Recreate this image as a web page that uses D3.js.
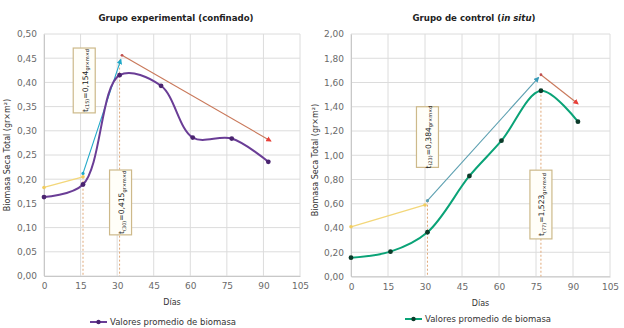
<!DOCTYPE html>
<html>
<head>
<meta charset="utf-8" />
<title>biomasa</title>
<script src="https://cdn.jsdelivr.net/npm/d3@7/dist/d3.min.js"></script>
<style>
  body { margin: 0; background: #fff; }
  text { font-family: "DejaVu Sans", Verdana, sans-serif; }
</style>
</head>
<body>
<svg width="624" height="328"></svg>
<script>
// dias de muestreo
var days = [0, 16, 31, 48, 61, 77, 92];
// grupo experimental (confinado)
var expValues = [0.163, 0.189, 0.415, 0.393, 0.286, 0.284, 0.236];
// grupo de control (in situ)
var ctrlValues = [0.155, 0.205, 0.365, 0.829, 1.12, 1.532, 1.277];

var xTicks = [0, 15, 30, 45, 60, 75, 90, 105];
var expYTicks = [0, 0.05, 0.10, 0.15, 0.20, 0.25, 0.30, 0.35, 0.40, 0.45, 0.50];
var ctrlYTicks = [0, 0.20, 0.40, 0.60, 0.80, 1.00, 1.20, 1.40, 1.60, 1.80, 2.00];

// lineas de tendencia [dia, valor]
var expYellow = [[0, 0.183], [16, 0.205]];
var expTeal = [[16, 0.212], [31.5, 0.447]];
var expRed = [[32, 0.456], [93, 0.279]];
var ctrlYellow = [[0, 0.41], [30, 0.59]];
var ctrlTeal = [[31, 0.625], [76, 1.64]];
var ctrlRed = [[77, 1.664], [92, 1.425]];

// etiquetas de tasa
var expRates = [{sub: "(15)", val: "=0,154"}, {sub: "(30)", val: "=0,415"}];
var ctrlRates = [{sub: "(23)", val: "=0,384"}, {sub: "(77)", val: "=1,523"}];

var svg = d3.select("svg");
var fmt = function(d){ return d3.format(".2f")(d).replace(".", ","); };

var defs = svg.append("defs");
function arrow(id, color){
  defs.append("marker").attr("id", id)
    .attr("viewBox", "0 0 10 10").attr("refX", 8).attr("refY", 5)
    .attr("markerWidth", 5).attr("markerHeight", 5).attr("orient", "auto")
    .append("path").attr("d", "M0,0 L10,5 L0,10 z").attr("fill", color);
}
arrow("arTeal", "#1fa8c8");
arrow("arTeal2", "#3a9bb8");
arrow("arRed", "#e8403a");

function panel(cfg){
  var g = svg.append("g");
  var x = d3.scaleLinear().domain([0, 105]).range([cfg.x0, cfg.x1]);
  var y = d3.scaleLinear().domain([0, cfg.ymax]).range([cfg.y0, cfg.y1]);

  // rejilla
  g.selectAll(".gy").data(cfg.yTicks).enter().append("line")
    .attr("x1", cfg.x0).attr("x2", cfg.x1)
    .attr("y1", function(d){ return y(d); }).attr("y2", function(d){ return y(d); })
    .attr("stroke", "#dcdcdc").attr("stroke-width", 1);
  g.selectAll(".gx").data(xTicks).enter().append("line")
    .attr("y1", cfg.y0).attr("y2", cfg.y1)
    .attr("x1", function(d){ return x(d); }).attr("x2", function(d){ return x(d); })
    .attr("stroke", "#dcdcdc").attr("stroke-width", 1);

  var ax = g.append("g").attr("transform", "translate(0," + cfg.y0 + ")")
    .call(d3.axisBottom(x).tickValues(xTicks).tickSize(0).tickPadding(7));
  var ay = g.append("g").attr("transform", "translate(" + cfg.x0 + ",0)")
    .call(d3.axisLeft(y).tickValues(cfg.yTicks).tickSize(0).tickPadding(7).tickFormat(fmt));
  [ax, ay].forEach(function(a){
    a.select(".domain").attr("stroke", "#c8c8c8");
    a.selectAll("text").attr("fill", "#6a6a6a").style("font-size", "9px");
  });

  // titulos
  var t = g.append("text").attr("x", cfg.titleX).attr("y", 21)
    .attr("text-anchor", "middle").style("font-size", "8.6px").style("font-weight", "bold").attr("fill", "#222");
  cfg.title.forEach(function(p){
    t.append("tspan").text(p[0]).style("font-style", p[1] ? "italic" : "normal");
  });
  g.append("text").attr("x", (cfg.x0 + cfg.x1) / 2).attr("y", cfg.y0 + 29)
    .attr("text-anchor", "middle").style("font-size", "8px").attr("fill", "#333").text("Días");
  g.append("text").attr("transform", "translate(" + cfg.yLabelX + "," + cfg.yLabelY + ") rotate(-90)")
    .attr("text-anchor", "middle").style("font-size", "8px").attr("fill", "#333")
    .text("Biomasa Seca Total (gr×m²)");

  // lineas verticales punteadas
  cfg.vlines.forEach(function(v){
    g.append("line").attr("x1", x(v[0])).attr("x2", x(v[0]))
      .attr("y1", y(v[1])).attr("y2", cfg.y0)
      .attr("stroke", "#e0a878").attr("stroke-width", 1).attr("stroke-dasharray", "2,2");
  });

  var ln = d3.line().x(function(d){ return x(d[0]); }).y(function(d){ return y(d[1]); });

  // tendencias
  g.append("path").attr("d", ln(cfg.yellow)).attr("stroke", "#f3d77a").attr("stroke-width", 1.3).attr("fill", "none");
  cfg.yellow.forEach(function(d){
    g.append("circle").attr("cx", x(d[0])).attr("cy", y(d[1])).attr("r", 1.8).attr("fill", "#f0cc60");
  });
  g.append("path").attr("d", ln(cfg.teal)).attr("stroke", cfg.tealColor).attr("stroke-width", 1.1)
    .attr("fill", "none").attr("marker-end", "url(#" + cfg.tealMarker + ")");
  g.append("circle").attr("cx", x(cfg.teal[0][0])).attr("cy", y(cfg.teal[0][1])).attr("r", 1.6).attr("fill", cfg.tealColor);
  g.append("path").attr("d", ln(cfg.red)).attr("stroke", "#c9785a").attr("stroke-width", 1.1)
    .attr("fill", "none").attr("marker-end", "url(#arRed)");
  g.append("circle").attr("cx", x(cfg.red[0][0])).attr("cy", y(cfg.red[0][1])).attr("r", 1.4).attr("fill", "#c05050");

  // serie principal
  var pts = days.map(function(d, i){ return [d, cfg.values[i]]; });
  var smooth = d3.line().curve(d3.curveCatmullRom.alpha(0.5))
    .x(function(d){ return x(d[0]); }).y(function(d){ return y(d[1]); });
  g.append("path").attr("d", smooth(pts)).attr("stroke", cfg.color).attr("stroke-width", 2).attr("fill", "none");
  g.selectAll(".pt").data(pts).enter().append("circle")
    .attr("cx", function(d){ return x(d[0]); }).attr("cy", function(d){ return y(d[1]); })
    .attr("r", 2.4).attr("fill", cfg.markColor);

  // cajas de tasa
  cfg.boxes.forEach(function(b, i){
    var r = cfg.rates[i];
    var cx = x(b.day), top = y(b.top), bot = y(b.bottom);
    g.append("rect").attr("x", cx - 11).attr("y", top).attr("width", 22).attr("height", bot - top)
      .attr("fill", "#fffef8").attr("stroke", "#cdb98a").attr("stroke-width", 1.2);
    var tx = g.append("text")
      .attr("transform", "translate(" + (cx + 3.5) + "," + ((top + bot) / 2) + ") rotate(-90)")
      .attr("text-anchor", "middle").style("font-size", "7.6px").attr("fill", "#222");
    tx.append("tspan").text("t");
    tx.append("tspan").text(r.sub).style("font-size", "5px").attr("dy", 1.5);
    tx.append("tspan").text(r.val).attr("dy", -1.5);
    tx.append("tspan").text("gr×m×d").style("font-size", "5px").attr("dy", 1.5);
  });

  // leyenda
  var lg = g.append("g");
  lg.append("line").attr("x1", cfg.legX).attr("x2", cfg.legX + 17).attr("y1", cfg.legY).attr("y2", cfg.legY)
    .attr("stroke", cfg.color).attr("stroke-width", 2);
  lg.append("circle").attr("cx", cfg.legX + 8.5).attr("cy", cfg.legY).attr("r", 2.2).attr("fill", cfg.markColor);
  lg.append("text").attr("x", cfg.legX + 20).attr("y", cfg.legY + 3).style("font-size", "8.5px")
    .attr("fill", "#333").text("Valores promedio de biomasa");
}

panel({
  x0: 44, x1: 300, y0: 276, y1: 34, ymax: 0.5, yTicks: expYTicks, values: expValues,
  color: "#6a3d96", markColor: "#4a2470",
  title: [["Grupo experimental (confinado)", false]], titleX: 176,
  yLabelX: 10, yLabelY: 155,
  yellow: expYellow, teal: expTeal, red: expRed, tealColor: "#1fa8c8", tealMarker: "arTeal",
  vlines: [[16, 0.205], [31, 0.447]],
  rates: expRates,
  boxes: [{day: 16.5, top: 0.471, bottom: 0.337}, {day: 31.4, top: 0.219, bottom: 0.085}],
  legX: 90, legY: 322
});

panel({
  x0: 351, x1: 610, y0: 276.5, y1: 34, ymax: 2, yTicks: ctrlYTicks, values: ctrlValues,
  color: "#0aa377", markColor: "#0c3b2a",
  title: [["Grupo de control (", false], ["in situ", true], [")", false]], titleX: 474,
  yLabelX: 318, yLabelY: 160,
  yellow: ctrlYellow, teal: ctrlTeal, red: ctrlRed, tealColor: "#5b9fb0", tealMarker: "arTeal2",
  vlines: [[31, 0.625], [77, 1.532]],
  rates: ctrlRates,
  boxes: [{day: 31, top: 1.40, bottom: 0.90}, {day: 77, top: 0.877, bottom: 0.31}],
  legX: 405, legY: 319
});
</script>
</body>
</html>
